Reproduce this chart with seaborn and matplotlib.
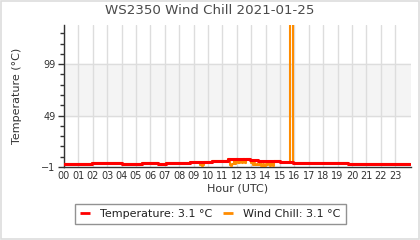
import matplotlib
matplotlib.use("Agg")
import matplotlib.pyplot as plt
from matplotlib.patches import Rectangle
from matplotlib.lines import Line2D
from matplotlib.ticker import FixedLocator
import seaborn as sns
import pandas as pd

title = "WS2350 Wind Chill 2021-01-25"
hour_labels = [f"{h:02d}" for h in range(24)]

temp_hours = [0, 1.92, 4.0, 5.4, 6.55, 7.08, 8.75, 8.87, 10.25, 11.4, 12.9, 13.5, 15.0, 15.9, 19.75, 24]
temp_vals = [2.3, 3.2, 2.3, 3.2, 2.3, 3.2, 4.1, 3.8, 4.9, 6.3, 6.1, 5.1, 4.2, 3.2, 2.3, 2.3]

wc_hours = [0, 1.92, 4.0, 5.4, 6.55, 7.08, 8.75, 8.87, 9.45, 9.55, 9.62, 9.7, 10.25, 11.4,
            11.55, 11.62, 11.7, 11.78, 11.85, 11.92, 12.1, 12.2, 12.35, 12.45, 12.55, 12.65,
            12.9, 13.0, 13.1, 13.2, 13.3, 13.4, 13.5, 13.6, 13.7, 13.8, 13.9, 14.0, 14.1,
            14.2, 14.3, 14.4, 14.5, 14.6, 15.0, 15.7, 15.88, 15.9, 19.75, 24]
wc_vals = [2.3, 3.2, 2.3, 3.2, 2.3, 3.2, 4.1, 3.8, 0.8, -0.3, 0.9, 3.8, 4.9, 6.3,
           0.5, -0.5, 1.5, 4.5, 2.0, 6.3, 2.5, 4.5, 3.0, 6.3, 2.5, 6.3,
           6.1, 2.5, 1.0, 2.5, 0.5, 2.0, 1.0, 2.5, 0.3, 1.8, 0.0, 2.0, 0.8,
           2.2, -0.3, 1.5, 0.2, 5.1, 4.2, 200.0, 4.2, 3.2, 2.3, 2.3]

legend_labels = ["Temperature: 3.1 °C", "Wind Chill: 3.1 °C"]
temp_color = "#ff0000"
wc_color = "#ff8c00"

sns.set_theme(style="white")
plt.rcParams["font.family"] = ["DejaVu Sans"]

fig = plt.figure(figsize=(4.2, 2.4), dpi=100)
ax = fig.add_axes([64/420, 1-167/240, (411-64)/420, (167-25)/240])

ax.axhspan(49, 99, color="#f4f4f4", zorder=0)
for h in range(24):
    ax.axvline(h, color="#dddddd", lw=1, zorder=1)
for y in (49, 99):
    ax.axhline(y, color="#dddddd", lw=1, zorder=1)

df_t = pd.DataFrame({"hour": temp_hours, "val": temp_vals})
df_w = pd.DataFrame({"hour": wc_hours, "val": wc_vals})

sns.lineplot(data=df_w, x="hour", y="val", ax=ax, color=wc_color, lw=1.5,
             drawstyle="steps-post", zorder=3, legend=False)
sns.lineplot(data=df_t, x="hour", y="val", ax=ax, color=temp_color, lw=2.2,
             drawstyle="steps-post", zorder=4, legend=False)

ax.set_xlim(0, 24.1)
ax.set_ylim(-1, 137)
ax.set_xticks(range(24))
ax.set_xticklabels(hour_labels)
ax.set_yticks([-1, 49, 99])
ax.yaxis.set_minor_locator(FixedLocator([9, 19, 29, 39, 59, 69, 79, 89, 109, 119, 129]))

for s in ("top", "right"):
    ax.spines[s].set_visible(False)
for s in ("left", "bottom"):
    ax.spines[s].set_color("#333333")
    ax.spines[s].set_linewidth(1)

ax.tick_params(axis="x", length=0, pad=3, labelsize=7, colors="#333333")
ax.tick_params(axis="y", which="major", length=4, width=1, direction="out",
               labelsize=7, colors="#333333", left=True, pad=2)
ax.tick_params(axis="y", which="minor", length=3, width=1, direction="out",
               colors="#333333", left=True)

ax.set_xlabel("Hour (UTC)", fontsize=8, color="#333333", labelpad=2)
ax.set_ylabel("Temperature (°C)", fontsize=8, color="#333333", labelpad=14)

fig.text(0.5, 1-11/240, title, ha="center", va="center", fontsize=9.6, color="#4a4a4a")

handles = [Line2D([], [], color=temp_color, lw=2, solid_capstyle="butt"),
           Line2D([], [], color=wc_color, lw=2, solid_capstyle="butt")]
leg = fig.legend(handles, legend_labels, loc="center",
                 bbox_to_anchor=(210.5/420, 1-214/240), ncol=2, fontsize=8,
                 frameon=True, fancybox=False, edgecolor="#777777",
                 handlelength=0.9, columnspacing=0.95, handletextpad=0.9,
                 borderpad=0.45, borderaxespad=0)
leg.get_frame().set_linewidth(1)
for t in leg.get_texts():
    t.set_color("#222222")

fig.patches.append(Rectangle((0.002, 0.004), 0.995, 0.992, transform=fig.transFigure,
                             fill=False, edgecolor="#dddddd", lw=1.2))

fig.savefig("out.png", dpi=100)
